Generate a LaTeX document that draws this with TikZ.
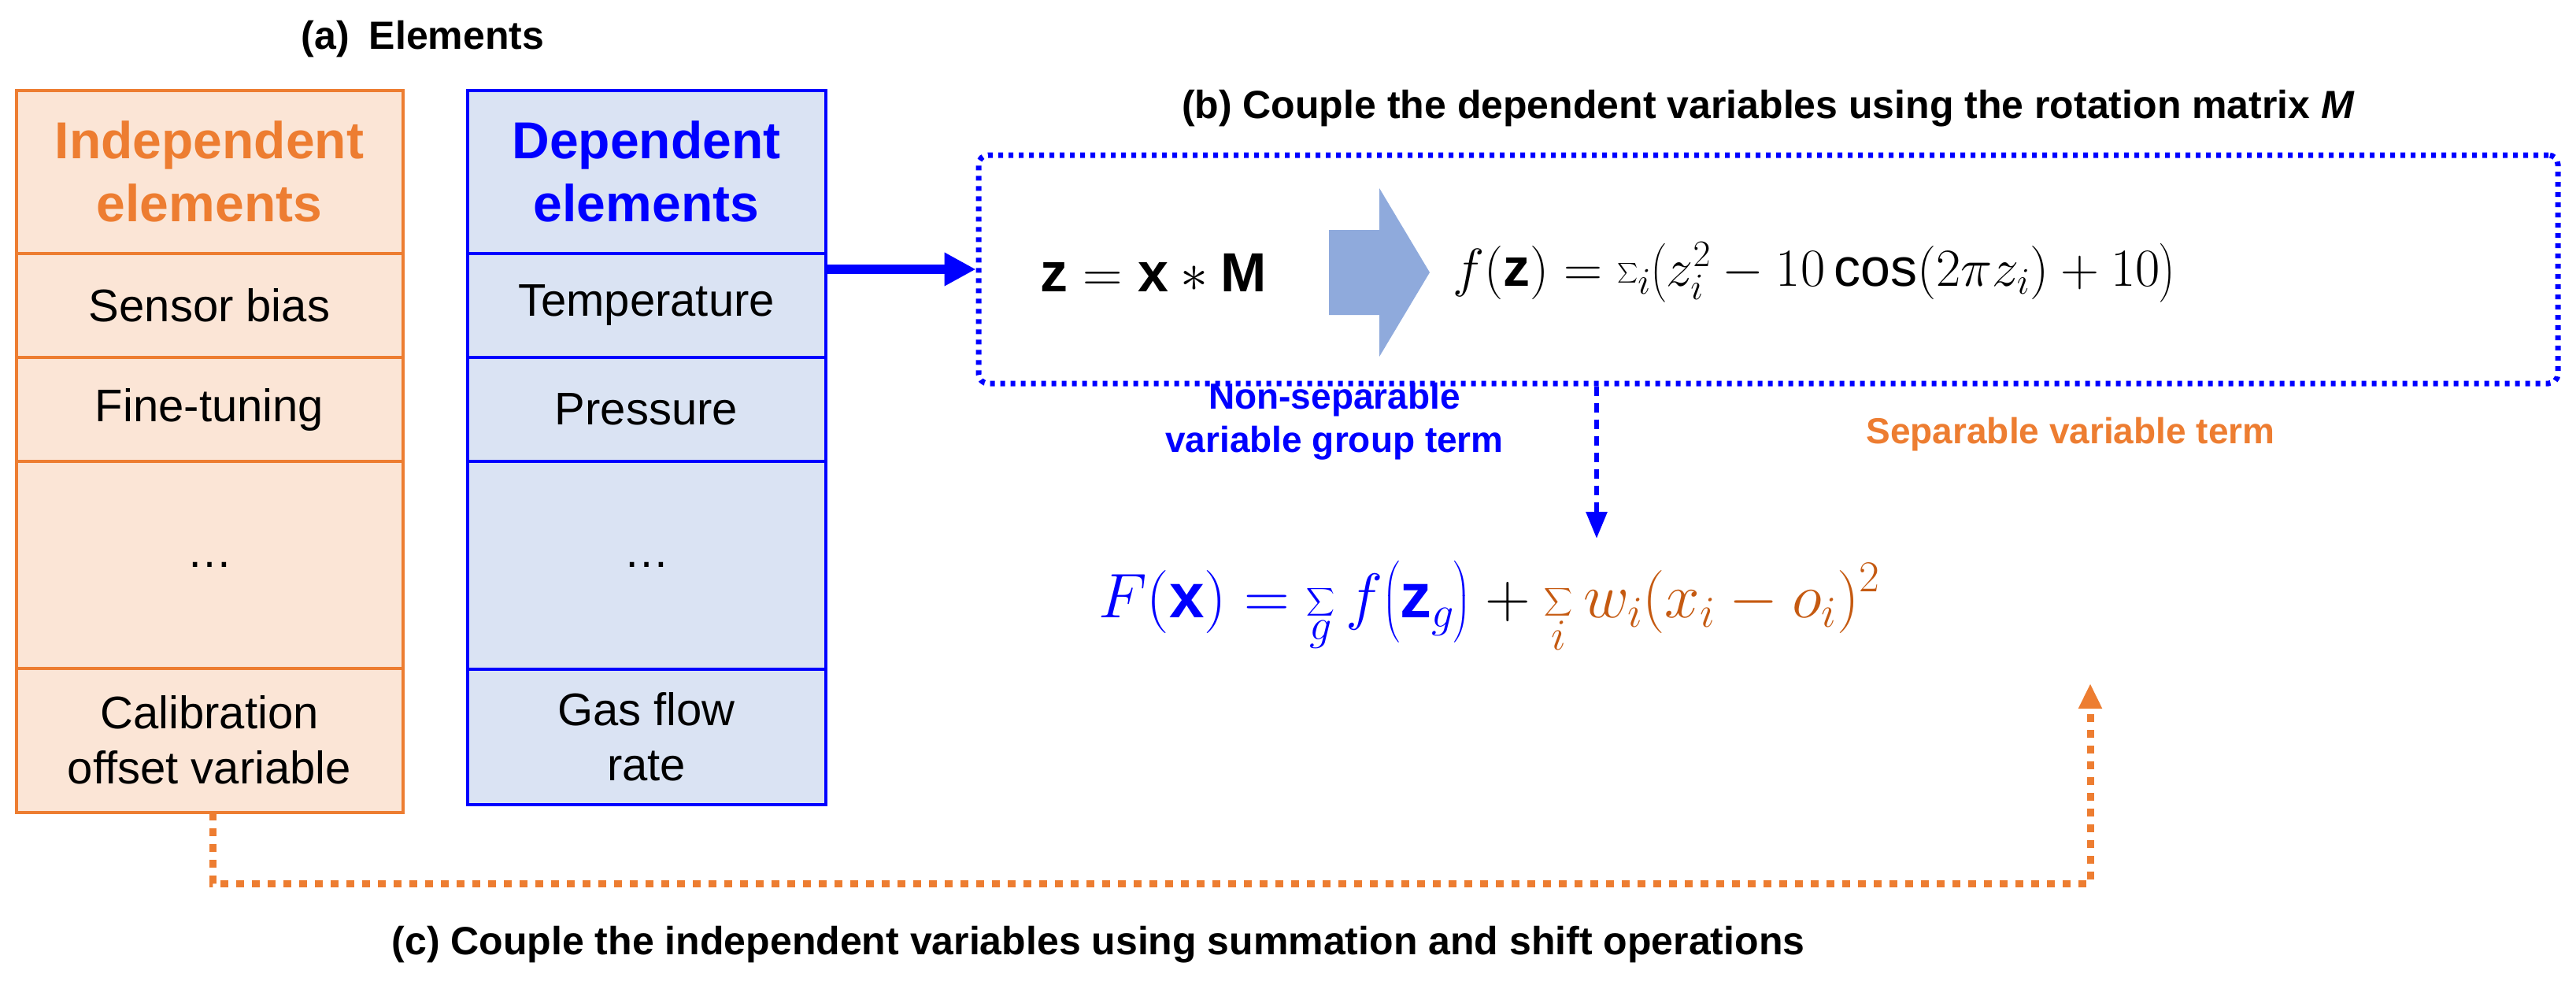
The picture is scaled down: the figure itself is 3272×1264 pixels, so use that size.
\RequirePackage{fix-cm}
\documentclass[tikz,border=0pt]{standalone}
\usepackage{amsmath}
\usepackage{fontspec}
\setmainfont{Liberation Sans}
\usetikzlibrary{arrows.meta}
\definecolor{ora}{HTML}{ED7D31}
\definecolor{orf}{HTML}{FBE5D6}
\definecolor{ord}{HTML}{C55A11}
\definecolor{blu}{HTML}{0000FF}
\definecolor{blf}{HTML}{DAE3F3}
\definecolor{arf}{HTML}{8FAADC}
\newcommand{\fs}[1]{\fontsize{#1}{\dimexpr#1pt*6/5\relax}\selectfont}
\begin{document}
\begin{tikzpicture}[x=1pt,y=-1pt,
  ocell/.style={draw=ora,fill=orf,line width=3.5pt},
  bcell/.style={draw=blu,fill=blf,line width=3.5pt},
  txt/.style={align=center,inner sep=0pt,font=\fs{58}},
  ttl/.style={inner sep=0pt,font=\fs{50}\bfseries},
  dotb/.style={line width=7pt,dash pattern=on 6pt off 7pt},
]
\useasboundingbox (0,0) rectangle (3272,1264);
% titles
\node[ttl] (ta) at (537,50) {(a)\enspace Elements};
\node[ttl] (tb) at (2246,138) {(b) Couple the dependent variables using the rotation matrix \textit{M}};
\node[ttl] (tc) at (1395,1200) {(c) Couple the independent variables using summation and shift operations};
% orange column
\path[ocell] (21,115) rectangle (512,322) (21,322) rectangle (512,454) (21,454) rectangle (512,586) (21,586) rectangle (512,849) (21,849) rectangle (512,1032);
\node[txt,font=\fs{66}\bfseries,text=ora] (oh) at (266,218) {Independent\\elements};
\node[txt] (o1) at (266,388) {Sensor bias};
\node[txt] (o2) at (266,520) {Fine-tuning};
\node[txt] (o3) at (266,717) {\dots};
\node[txt] (o4) at (266,940) {Calibration\\offset variable};
\coordinate (obot) at (270,1032);
% blue column
\path[bcell] (594,115) rectangle (1049,322) (594,322) rectangle (1049,454) (594,454) rectangle (1049,586) (594,586) rectangle (1049,850) (594,850) rectangle (1049,1022);
\node[txt,font=\fs{66}\bfseries,text=blu] (bh) at (821,218) {Dependent\\elements};
\node[txt] (b1) at (821,388) {Temperature};
\node[txt] (b2) at (821,520) {Pressure};
\node[txt] (b3) at (821,717) {\dots};
\node[txt] (b4) at (821,936) {Gas flow\\rate};
\coordinate (bout) at (1049,342);
% dotted box
\node[draw=blu,dotb,rounded corners=12pt,minimum width=2006pt,minimum height=290pt,inner sep=0pt] (box) at (2246,342) {};
\draw[blu,line width=12pt,-{Triangle[length=40pt,width=40pt]}] (bout) -- (box.west|-bout);
\node[inner sep=0pt,font=\fs{70}] (eq1) at (1465,346) {$\mathbf{z}=\mathbf{x}*\mathbf{M}$};
\fill[arf] (1688,292) -- (1752,292) -- (1752,239) -- (1816,346) -- (1752,453) -- (1752,400) -- (1688,400) -- cycle;
\node[inner sep=0pt,font=\fs{68},anchor=west] (eq2) at (1845,346) {$f(\mathbf{z})=\sum_i\!\left(z_i^2-10\cos(2\pi z_i)+10\right)$};
% labels
\node[txt,font=\fs{46}\bfseries,text=blu] (ns) at (1695,535) {Non-separable\\variable group term};
\node[txt,font=\fs{46}\bfseries,text=ora] (sv) at (2630,552) {Separable variable term};
% main formula
\node[inner sep=0pt,font=\fs{80},anchor=west] (F) at (1395,770) {$\color{blu}F(\mathbf{x})=\displaystyle\sum_g f\big(\mathbf{z}_g\big)\color{black}+\color{ord}\displaystyle\sum_i w_i(x_i-o_i)^2$};
\coordinate (Ftop) at (2028,684);
\coordinate (Fbot) at (2655,868);
\draw[blu,line width=6pt,dash pattern=on 12pt off 9pt,-{Triangle[length=34pt,width=26pt]}] (box.south-|Ftop) -- (Ftop);
\draw[ora,line width=9pt,dash pattern=on 10pt off 10pt,-{Triangle[length=32pt,width=28pt]}] (obot) |- (Fbot|-0,1122) -- (Fbot);
\end{tikzpicture}
\end{document}
